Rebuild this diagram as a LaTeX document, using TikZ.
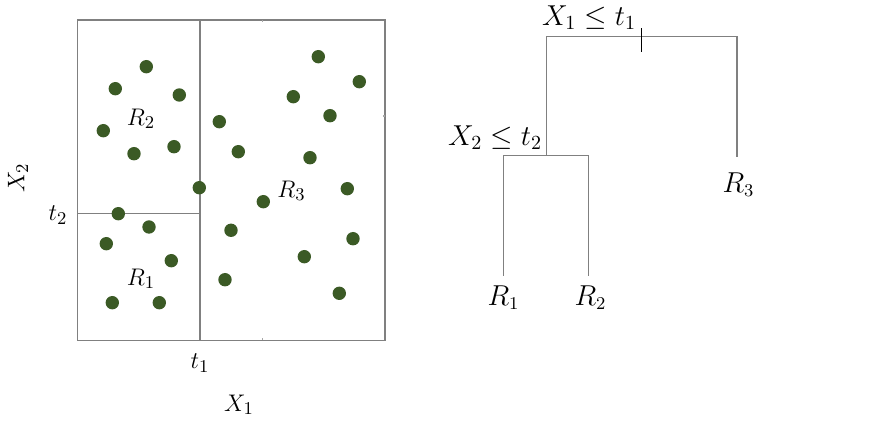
\documentclass[tikz,border=0pt]{standalone}
\begin{document}
\begin{tikzpicture}[x=0.5pt,y=-0.5pt,
  ln/.style={draw=black!50,line width=0.55pt},
  dot/.style={circle,fill=dotgreen,inner sep=0pt,minimum width=6.7pt,minimum height=6.7pt},
  lbl/.style={inner sep=0pt,font=\fontsize{12.5}{15}\selectfont},
  tlbl/.style={inner sep=0pt,font=\fontsize{14}{17}\selectfont},
  leaf/.style={inner sep=0pt,font=\fontsize{13.3}{16}\selectfont}]
\definecolor{dotgreen}{HTML}{3B5A25}
\useasboundingbox (0,0) rectangle (876,442);
% box
\coordinate (bl) at (77.5,340.5);
\coordinate (tr) at (385,20);
\draw[ln] (bl) rectangle (tr);
\coordinate (v1) at (200,20);
\coordinate (v2) at (200,340.5);
\draw[ln] (v1) -- (v2);
\coordinate (h1) at (77.5,213.5);
\coordinate (h2) at (200,213.5);
\draw[ln] (h1) -- (h2);
% tiny ticks
\coordinate (tk1) at (262.7,20); \coordinate (tk1b) at (262.7,22);
\coordinate (tk2) at (262.7,340.5); \coordinate (tk2b) at (262.7,338.5);
\coordinate (tk3) at (385,116); \coordinate (tk3b) at (383,116);
\draw[ln,draw=black!35] (tk1)--(tk1b) (tk2)--(tk2b) (tk3)--(tk3b);
% dots
\foreach \n/\x/\y in {a/146.3/66.7,b/115.3/88.7,c/179.3/95,d/103.3/130.7,e/134/153.7,f/174/146.7,
  g/199.3/187.7,h/118.3/213.7,i/149/227,j/106.3/243.7,k/171.3/260.7,l/112.3/302.7,m/159.3/302.7,
  n/219.3/121.7,o/238.3/151.7,p/263.3/201.7,q/231/230.3,r/225/279.7,s/318.3/56.7,t/359.3/81.7,
  u/293.3/96.7,v/330/115.7,w/310/157.7,x/347.3/188.7,y/353/238.7,z/304.3/256.7,zz/339.3/293.3}
  \node[dot] (d\n) at (\x,\y) {};
% region labels
\node[lbl] (r2) at (141,119) {$R_2$};
\node[lbl] (r1) at (141,279) {$R_1$};
\node[lbl] (r3) at (291.5,191) {$R_3$};
\node[lbl] (t2) at (58,215) {$t_2$};
\node[lbl,rotate=90] (x2) at (18,178) {$X_2$};
\node[lbl] (t1) at (200,363) {$t_1$};
\node[lbl] (x1) at (239,405) {$X_1$};
% tree
\node[tlbl] (root) at (589,18) {$X_1\leq t_1$};
\node[tlbl] (split2) at (495,137.5) {$X_2\leq t_2$};
\node[leaf] (l1) at (503.5,298) {$R_1$};
\node[leaf] (l2) at (590.5,298) {$R_2$};
\node[leaf] (l3) at (738.5,185) {$R_3$};
\coordinate (rl) at (546.3,36.7);
\coordinate (rr) at (737,36.7);
\coordinate (rlb) at (546.3,155.7);
\coordinate (rrb) at (737,156.7);
\coordinate (tick1) at (641.3,28.3);
\coordinate (tick2) at (641.3,51.7);
\coordinate (s2l) at (503.3,155.7);
\coordinate (s2r) at (588.7,155.7);
\coordinate (s2lb) at (503.3,276);
\coordinate (s2rb) at (588.7,276);
\draw[ln] (rlb) -- (rl) -- (rr) -- (rrb);
\draw[draw=black,line width=0.8pt] (tick1) -- (tick2);
\draw[ln] (s2lb) -- (s2l) -- (s2r) -- (s2rb);
\end{tikzpicture}
\end{document}
